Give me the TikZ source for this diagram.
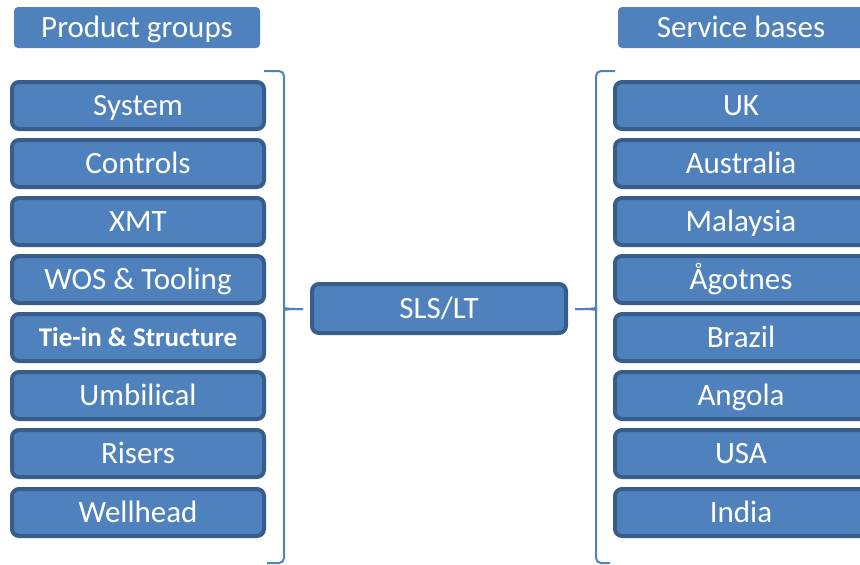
\documentclass[tikz,border=0pt]{standalone}
\usepackage{fontspec}
\setmainfont{Carlito}
\definecolor{boxfill}{HTML}{4F81BD}
\definecolor{boxedge}{HTML}{385D8A}
\begin{document}
\begin{tikzpicture}[x=1pt,y=-1pt,
  item/.style={rectangle, rounded corners=7pt, fill=boxfill, draw=boxedge,
    line width=4pt, minimum width=252pt, minimum height=47pt, inner sep=0pt,
    text=white, font=\fontsize{31}{31}\selectfont, text height=20pt, text depth=0pt},
  bolditem/.style={item, font=\bfseries\fontsize{27}{27}\selectfont, text height=17.4pt},
  header/.style={rectangle, rounded corners=4pt, fill=boxfill, draw=none,
    minimum width=246pt, minimum height=41pt, inner sep=0pt,
    text=white, font=\fontsize{31}{31}\selectfont, text height=20pt, text depth=0pt},
  brace/.style={draw=boxfill, line width=2pt, rounded corners=5pt}]
\useasboundingbox (0,0) rectangle (860,565);
\clip (0,0) rectangle (860,565);

% column headings
\node[header] (hpg) at (137,27.5) {Product groups};
\node[header] (hsb) at (741,27.5) {Service bases};

% product groups
\node[item] (p1) at (138,105.5) {System};
\node[item] (p2) at (138,163.5) {Controls};
\node[item] (p3) at (138,221.5) {XMT};
\node[item] (p4) at (138,279.5) {WOS \& Tooling};
\node[bolditem] (p5) at (138,337.5) {Tie-in \& Structure};
\node[item] (p6) at (138,395.5) {Umbilical};
\node[item] (p7) at (138,453.5) {Risers};
\node[item] (p8) at (138,512.5) {Wellhead};

% centre
\node[item, minimum width=254pt, minimum height=49pt] (sls) at (439,308.5) {SLS/LT};

% service bases
\node[item] (s1) at (741,105.5) {UK};
\node[item] (s2) at (741,163.5) {Australia};
\node[item] (s3) at (741,221.5) {Malaysia};
\node[item] (s4) at (741,279.5) {Ågotnes};
\node[item] (s5) at (741,337.5) {Brazil};
\node[item] (s6) at (741,395.5) {Angola};
\node[item] (s7) at (741,453.5) {USA};
\node[item] (s8) at (741,512.5) {India};

% braces
\coordinate (ltip) at (303,309);
\coordinate (rtip) at (575,309);
\draw[brace] (264,71) -| (284,304) .. controls (284,308) .. (290,309) -- (ltip);
\draw[brace] (ltip) -- (290,309) .. controls (284,310) .. (284,314) |- (267,563);
\draw[brace] (615,71) -| (596,304) .. controls (596,308) .. (590,309) -- (rtip);
\draw[brace] (rtip) -- (590,309) .. controls (596,310) .. (596,314) |- (610,563);
\end{tikzpicture}
\end{document}
